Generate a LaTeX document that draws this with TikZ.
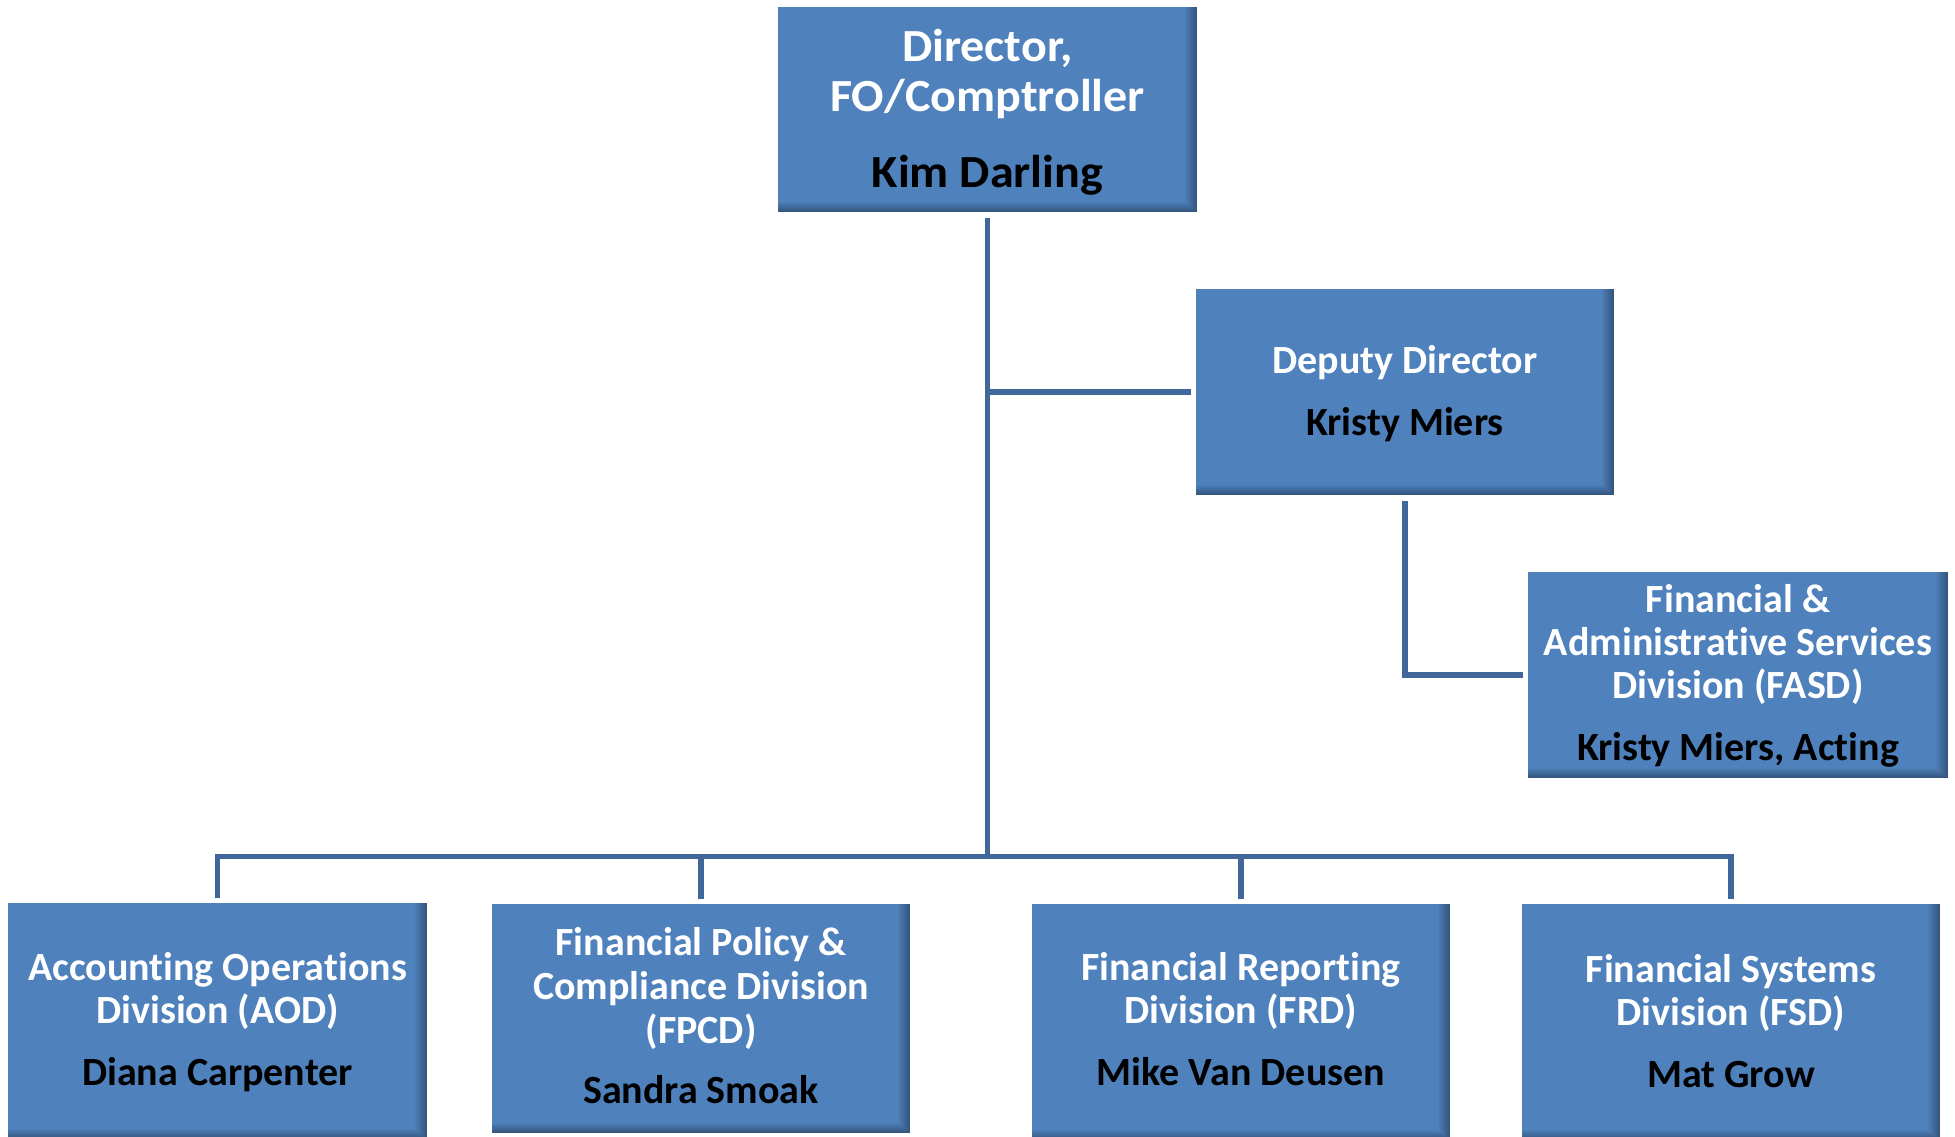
\documentclass[tikz,border=0pt]{standalone}
\usepackage{fontspec}
\setmainfont[Ligatures=NoCommon]{Carlito}
\usetikzlibrary{calc}
\definecolor{boxblue}{HTML}{4F81BD}
\definecolor{boxdark}{HTML}{34567F}
\definecolor{linkblue}{HTML}{41679A}
\tikzset{
  box/.style={rectangle, fill=boxblue, inner sep=0pt, outer sep=0pt,
    path picture={
      \foreach \i [evaluate=\i as \w using {100-\i*100/12}] in {11,10,...,0}{
        \fill[boxdark!\w!boxblue]
          ([xshift={-(\i+1)*1pt}]path picture bounding box.north east) rectangle (path picture bounding box.south east);
      }
      \foreach \i [evaluate=\i as \w using {100-\i*100/10}] in {9,8,...,0}{
        \fill[boxdark!\w!boxblue]
          ([yshift={(\i+1)*1pt}]path picture bounding box.south west) rectangle ([xshift={-(\i+1)*1pt}]path picture bounding box.south east);
      }
    }},
  ttl/.style={anchor=base, text=white, inner sep=0pt},
  nm/.style={anchor=base, text=black, inner sep=0pt},
  big/.style={font=\bfseries\fontsize{46}{46}\selectfont, xscale=1.045},
  std/.style={font=\bfseries\fontsize{40}{40}\selectfont},
  conn/.style={draw=linkblue, line width=5.5pt, line join=miter, line cap=butt},
}
\begin{document}
\begin{tikzpicture}[x=1pt, y=-1pt]
\useasboundingbox[fill=white] (0,0) rectangle (1955,1137);

% boxes
\node[box, minimum width=419pt, minimum height=205pt] (dir)  at (987.5,109.5) {};
\node[box, minimum width=418pt, minimum height=206pt] (dep)  at (1405,392) {};
\node[box, minimum width=420pt, minimum height=206pt] (fasd) at (1738,675) {};
\node[box, minimum width=419pt, minimum height=236pt] (aod)  at (217.5,1021) {};
\node[box, minimum width=418pt, minimum height=229pt] (fpcd) at (701,1018.5) {};
\node[box, minimum width=418pt, minimum height=236pt] (frd)  at (1241,1022) {};
\node[box, minimum width=418pt, minimum height=236pt] (fsd)  at (1731,1022) {};

% texts
\node[ttl, big] (dirA) at (987.5,62) {Director,};
\node[ttl, big] (dirB) at (987.5,112) {FO/Comptroller};
\node[nm,  big] (dirC) at (987.5,187) {Kim Darling};

\node[ttl, std] (depA) at (1405,373) {Deputy Director};
\node[nm,  std] (depB) at (1405,435) {Kristy Miers};

\node[ttl, std] (fasdA) at (1738,612) {Financial \&};
\node[ttl, std] (fasdB) at (1738,655) {Administrative Services};
\node[ttl, std] (fasdC) at (1738,698) {Division (FASD)};
\node[nm,  std] (fasdD) at (1738,760) {Kristy Miers, Acting};

\node[ttl, std] (aodA) at (217.5,980) {Accounting Operations};
\node[ttl, std] (aodB) at (217.5,1023) {Division (AOD)};
\node[nm,  std] (aodC) at (217.5,1085) {Diana Carpenter};

\node[ttl, std] (fpcdA) at (701,955) {Financial Policy \&};
\node[ttl, std] (fpcdB) at (701,999) {Compliance Division};
\node[ttl, std] (fpcdC) at (701,1043) {(FPCD)};
\node[nm,  std] (fpcdD) at (701,1103) {Sandra Smoak};

\node[ttl, std] (frdA) at (1241,980) {Financial Reporting};
\node[ttl, std] (frdB) at (1241,1023) {Division (FRD)};
\node[nm,  std] (frdC) at (1241,1085) {Mike Van Deusen};

\node[ttl, std] (fsdA) at (1731,982) {Financial Systems};
\node[ttl, std] (fsdB) at (1731,1025) {Division (FSD)};
\node[nm,  std] (fsdC) at (1731,1087) {Mat Grow};

% connectors
\coordinate (bus) at (987.5,856.5);
\draw[conn] ($(dir.south)+(0,6)$) -- (bus);
\draw[conn] ($(aod.north)+(0,-5)$) |- (bus) -| ($(fsd.north)+(0,-5)$);
\draw[conn] ($(fpcd.north)+(0,-5)$) -- (fpcd.north |- bus);
\draw[conn] ($(frd.north)+(0,-5)$) -- (frd.north |- bus);
\draw[conn] (dir.south |- dep.west) -- ($(dep.west)+(-5,0)$);
\draw[conn] ($(dep.south)+(0,6)$) |- ($(fasd.west)+(-5,0)$);
\end{tikzpicture}
\end{document}
